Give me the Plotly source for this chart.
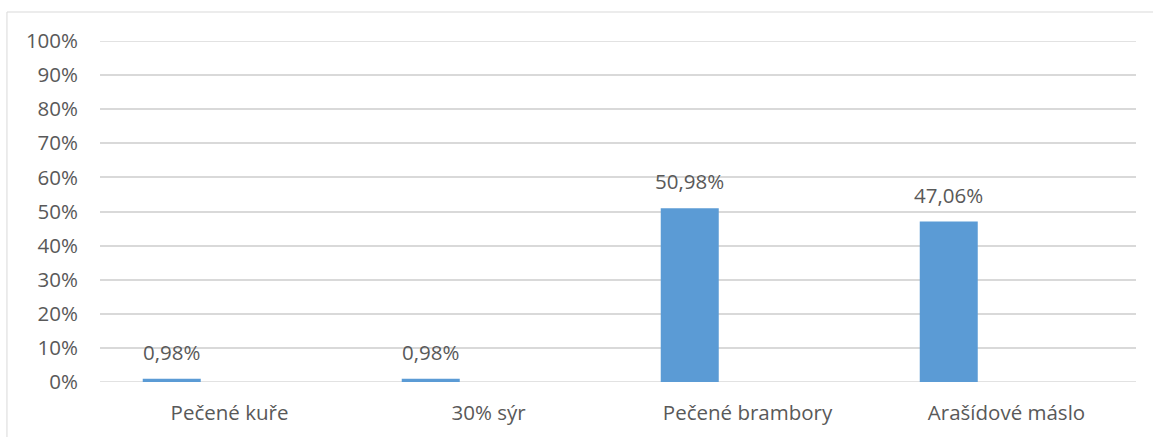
import plotly.graph_objects as go

# Survey results per food item (share of respondents)
categories = ["Pečené kuře", "30% sýr", "Pečené brambory", "Arašídové máslo"]
shares = [0.0098, 0.0098, 0.5098, 0.4706]
y_ticks = [0.0, 0.1, 0.2, 0.3, 0.4, 0.5, 0.6, 0.7, 0.8, 0.9, 1.0]

BAR_COLOR = "#5B9BD5"
TEXT_COLOR = "#595959"
GRID_COLOR = "#D9D9D9"
FONT = "Open Sans"
FONT_SIZE = 20.5

# Bar geometry in category units (each category spans 1.0)
BAR_WIDTH = 0.224
BAR_OFFSET = -0.335

x_pos = list(range(len(categories)))

fig = go.Figure()
fig.add_trace(go.Bar(
    x=x_pos,
    y=shares,
    width=[BAR_WIDTH] * len(x_pos),
    offset=[BAR_OFFSET] * len(x_pos),
    marker=dict(color=BAR_COLOR, line=dict(width=0)),
    hoverinfo="skip",
    showlegend=False,
))

# Value labels above each bar
for xi, v in zip(x_pos, shares):
    fig.add_annotation(
        x=xi + BAR_OFFSET + BAR_WIDTH / 2,
        y=v,
        xref="x",
        yref="y",
        text=f"{v * 100:.2f}%".replace(".", ","),
        showarrow=False,
        yanchor="bottom",
        yshift=11,
        font=dict(family=FONT, size=FONT_SIZE, color=TEXT_COLOR),
    )

# Chart-area border (top and left edges visible)
fig.add_shape(type="line", xref="paper", yref="paper",
              x0=-0.0898, x1=1.05, y0=1.085, y1=1.085,
              line=dict(color=GRID_COLOR, width=1))
fig.add_shape(type="line", xref="paper", yref="paper",
              x0=-0.0898, x1=-0.0898, y0=-0.2, y1=1.085,
              line=dict(color=GRID_COLOR, width=1))

# Horizontal gridlines at the range edges (0% and 100%)
for edge in (y_ticks[0], y_ticks[-1]):
    fig.add_shape(type="line", xref="paper", yref="y", x0=0, x1=1,
                  y0=edge, y1=edge,
                  line=dict(color=GRID_COLOR, width=1.5), layer="below")

fig.update_layout(
    width=1153,
    height=437,
    margin=dict(l=100, r=17, t=41, b=55),
    paper_bgcolor="white",
    plot_bgcolor="white",
    separators=", ",
    font=dict(family=FONT, size=FONT_SIZE, color=TEXT_COLOR),
    xaxis=dict(
        range=[-0.5, len(categories) - 0.5],
        tickvals=x_pos,
        ticktext=categories,
        showgrid=False,
        zeroline=False,
        showline=False,
        ticks="",
        ticklabelstandoff=16,
        tickfont=dict(family=FONT, size=FONT_SIZE, color=TEXT_COLOR),
    ),
    yaxis=dict(
        range=[0, 1],
        tickvals=y_ticks,
        tickformat=".0%",
        showgrid=True,
        gridcolor=GRID_COLOR,
        gridwidth=1.5,
        zeroline=False,
        showline=False,
        ticks="",
        ticklabelstandoff=21,
        tickfont=dict(family=FONT, size=FONT_SIZE, color=TEXT_COLOR),
    ),
)

fig.write_html("out.html")
